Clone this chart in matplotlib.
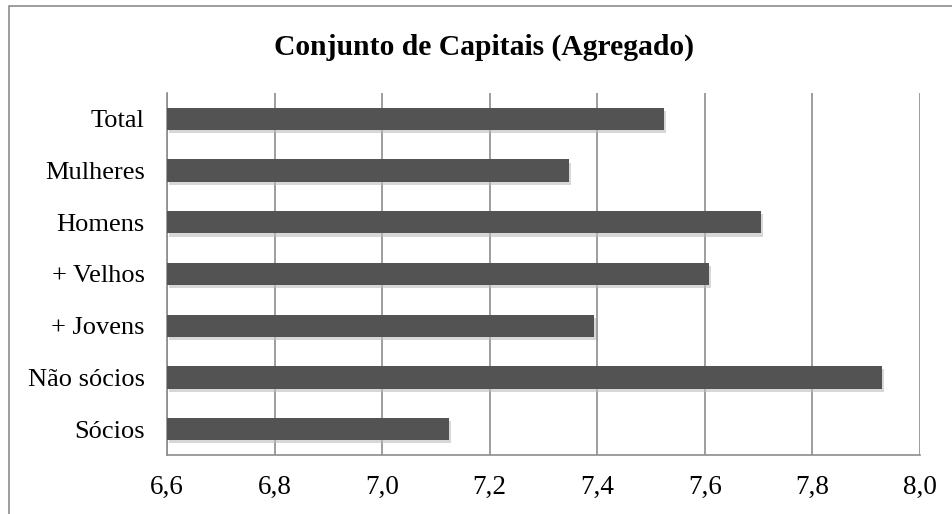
# -*- coding: utf-8 -*-
"""
Conjunto de Capitais (Agregado) - horizontal bar chart
"""

import matplotlib.pyplot as plt
from matplotlib.patches import Rectangle

# ============================================================
# DATA
# ============================================================

categories = ["Total", "Mulheres", "Homens", "+ Velhos", "+ Jovens", "Não sócios", "Sócios"]
values = [7.524, 7.347, 7.704, 7.608, 7.394, 7.929, 7.124]

x_ticks = [6.6, 6.8, 7.0, 7.2, 7.4, 7.6, 7.8, 8.0]
x_tick_labels = ["6,6", "6,8", "7,0", "7,2", "7,4", "7,6", "7,8", "8,0"]

title = "Conjunto de Capitais (Agregado)"

# ============================================================
# PLOT
# ============================================================

plt.rcParams["font.family"] = ["Liberation Serif", "DejaVu Serif"]

W, H = 953, 514
fig = plt.figure(figsize=(W / 100, H / 100), dpi=100)

# plot area in pixels: x 167..920, y 93..455
ax = fig.add_axes([167 / W, 1 - 455 / H, (920 - 167) / W, (455 - 93) / H])

# outer chart frame
fig.patches.append(Rectangle((9 / W, -0.05), 1.2, 1 - 6 / H + 0.05,
                             transform=fig.transFigure, fill=False,
                             edgecolor="#8c8c8c", linewidth=1.2))

ypos = list(range(len(categories)))[::-1]
bar_h = 0.43

# soft shadow
ax.barh([y - 0.06 for y in ypos], [v - x_ticks[0] for v in values], left=x_ticks[0] + 0.004,
        height=bar_h, color="#bdbdbd", alpha=0.6, zorder=2)
ax.barh(ypos, [v - x_ticks[0] for v in values], left=x_ticks[0],
        height=bar_h, color="#535353", zorder=3)

ax.set_xlim(x_ticks[0], x_ticks[-1])
ax.set_ylim(-0.5, len(categories) - 0.5)
ax.set_xticks(x_ticks)
ax.set_xticklabels(x_tick_labels, fontsize=19.5)
ax.set_yticks(ypos)
ax.set_yticklabels(categories, fontsize=19)
ax.tick_params(length=0, pad=14, axis="x")
ax.tick_params(length=0, pad=16, axis="y")

ax.grid(axis="x", color="#8c8c8c", linewidth=1.2, zorder=1)
ax.set_axisbelow(True)
for side in ["top", "right"]:
    ax.spines[side].set_visible(False)
for side in ["left", "bottom"]:
    ax.spines[side].set_color("#8c8c8c")
    ax.spines[side].set_linewidth(1.2)

fig.text(484 / W, 1 - 47.5 / H, title, ha="center", va="center",
         fontsize=21.3, fontweight="bold")

plt.savefig("out.png", dpi=100)
